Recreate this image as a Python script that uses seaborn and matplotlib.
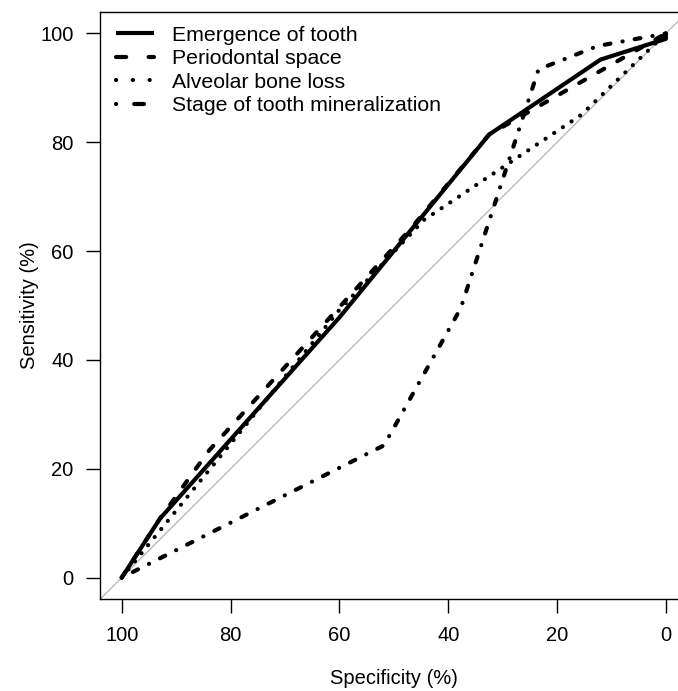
"""
ROC curves for four dental age indicators (sensitivity vs specificity).
"""
import matplotlib.pyplot as plt
import numpy as np
import pandas as pd
import seaborn as sns
from matplotlib.lines import Line2D

# Style
sns.set_style("ticks", rc={"axes.edgecolor": "black", "xtick.color": "black",
                           "ytick.color": "black", "text.color": "black",
                           "axes.labelcolor": "black"})
plt.rcParams['font.family'] = ['Liberation Sans', 'DejaVu Sans']
plt.rcParams['lines.scale_dashes'] = False

# ROC curve points (specificity %, sensitivity %)
labels = ['Emergence of tooth', 'Periodontal space',
          'Alveolar bone loss', 'Stage of tooth mineralization']

spec_emergence = [100, 93, 60, 32.5, 12, 0, 0]
sens_emergence = [0, 10.8, 47.8, 81.4, 95.2, 99, 100]

spec_periodontal = [100, 93, 84, 47, 32.5, 0]
sens_periodontal = [0, 10.8, 23.3, 64, 81.4, 100]

spec_alveolar = [100, 60, 44.5, 15.6, 0]
sens_alveolar = [0, 49.2, 65.7, 85, 100]

spec_mineral = [100, 51.8, 37.7, 23.4, 12.5, 0]
sens_mineral = [0, 24.3, 49.5, 93.4, 97.7, 100]

ticks = [0, 20, 40, 60, 80, 100]

df = pd.concat([
    pd.DataFrame({'spec': s, 'sens': v, 'test': lab})
    for s, v, lab in zip([spec_emergence, spec_periodontal, spec_alveolar, spec_mineral],
                         [sens_emergence, sens_periodontal, sens_alveolar, sens_mineral],
                         labels)
], ignore_index=True)

# dash patterns in points (round caps add the line width to each dash)
curve_dashes = {
    labels[0]: "",
    labels[1]: (4.9, 10.9),
    labels[2]: (0.1, 7.4),
    labels[3]: (0.1, 8.8, 4.2, 8.8),
}
legend_styles = ['-', (0, (7.3, 16.2)), (0, (0.1, 12.0)), (0, (0.1, 13.0, 7.1, 13.0))]

lw = 3.0
fig = plt.figure(figsize=(6.78, 6.91), dpi=100)
ax = fig.add_axes([0.1475, 0.1327, 0.8667, 0.8504])

# chance diagonal
ax.axline((100, 0), (0, 100), color='#BBBBBB', lw=1.0, zorder=1)

sns.lineplot(data=df, x='spec', y='sens', style='test', dashes=curve_dashes,
             color='black', sort=False, estimator=None, legend=False,
             lw=lw, dash_capstyle='round', solid_capstyle='round',
             solid_joinstyle='round', ax=ax, zorder=3)

ax.set_xlim(104, -4)
ax.set_ylim(-4, 104)
ax.set_xticks(ticks[::-1])
ax.set_yticks(ticks)
ax.set_xticklabels([str(t) for t in ticks[::-1]])
ax.tick_params(direction='out', length=10, width=1, pad=9, labelsize=14.5)
for sp in ax.spines.values():
    sp.set_visible(True)
    sp.set_linewidth(1.0)

ax.set_xlabel('Specificity (%)', fontsize=14.5)
ax.set_ylabel('Sensitivity (%)', fontsize=14.5)
ax.xaxis.set_label_coords(0.5, -0.118)
ax.yaxis.set_label_coords(-0.104, 0.5)

handles = [Line2D([], [], color='black', lw=lw, linestyle=ls,
                  dash_capstyle='round', solid_capstyle='butt')
           for ls in legend_styles]
ax.legend(handles, labels, loc='upper left', bbox_to_anchor=(0.0267, 0.976),
          frameon=False, fontsize=15.3, handlelength=1.82, handletextpad=0.82,
          labelspacing=0.215, borderpad=0, borderaxespad=0)

fig.savefig('out.png', dpi=100)
